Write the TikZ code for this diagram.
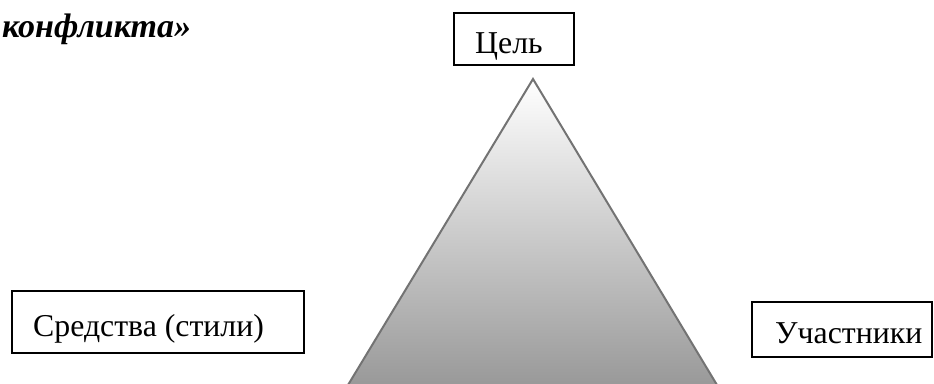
\documentclass[tikz,border=0pt]{standalone}
\usepackage{fontspec}
\setmainfont{Liberation Serif}
\begin{document}
\begin{tikzpicture}[x=1pt,y=-1pt,
  lbl/.style={draw=black,line width=1.5pt},
  txt/.style={font=\fontsize{31.8}{32}\selectfont,inner sep=0pt,anchor=base west},
  ttl/.style={font=\fontsize{34}{34}\selectfont\bfseries\itshape,inner sep=0pt}]
\useasboundingbox (0,0) rectangle (934,383);
\clip (0,0) rectangle (934,383);
\shade[top color=white,bottom color=black!40,draw=black!55,line width=2pt]
  (533,79) -- (717,385) -- (348,385) -- cycle;
\draw[lbl] (454,13) rectangle (574,65);
\node[txt] (goal) at (475,53) {Цель};
\draw[lbl] (12,291) rectangle (304,353);
\node[txt] (means) at (33,336) {Средства (стили)};
\draw[lbl] (752,302) rectangle (932,357);
\node[txt] (parts) at (775,343) {Участники};
\node[ttl,anchor=base west] (title) at (2,37) {конфликта»};
\end{tikzpicture}
\end{document}
